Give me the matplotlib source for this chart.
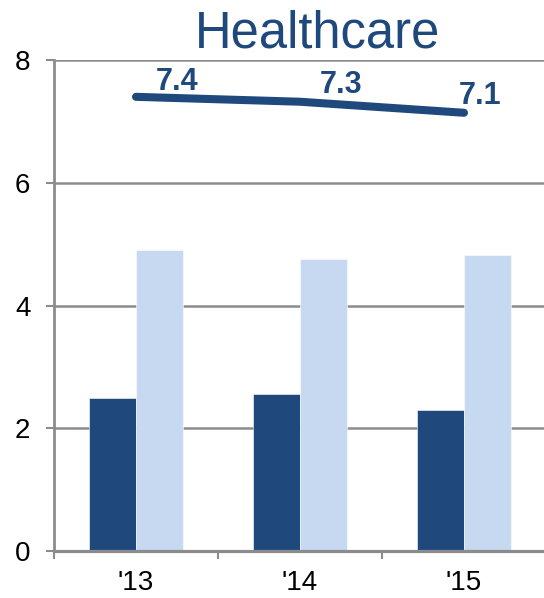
import matplotlib
matplotlib.use("Agg")
import matplotlib.pyplot as plt
import numpy as np

plt.rcParams['font.family'] = ['Liberation Sans', 'DejaVu Sans']

years = ["'13", "'14", "'15"]
dark_values = [2.49, 2.55, 2.30]
light_values = [4.91, 4.76, 4.82]
line_values = [7.40, 7.32, 7.14]
y_ticks = [0, 2, 4, 6, 8]

DARK = "#1F497D"
LIGHT = "#C6D9F1"
GRID = "#8C8C8C"

fig = plt.figure(figsize=(5.44, 5.98), dpi=100)
ax = fig.add_axes([54 / 544, 47 / 598, 492 / 544, 491 / 598])

x = np.arange(len(years))
w = 0.2866
ax.bar(x - w / 2, dark_values, width=w, color=DARK, zorder=3, edgecolor="white", linewidth=0.4)
ax.bar(x + w / 2, light_values, width=w, color=LIGHT, zorder=3, edgecolor="white", linewidth=0.4)

ax.plot(x, line_values, color=DARK, linewidth=5.8, solid_capstyle="round", zorder=4)

# value labels sit above and to the right of each point
label_offsets = [(29.5, 4.8), (29.5, 6.5), (11.5, 6.5)]
for xi, v, (dx, dy) in zip(x, line_values, label_offsets):
    ax.annotate(f"{v:.1f}", (xi, v), xytext=(dx, dy), textcoords="offset points",
                ha="center", va="baseline", fontsize=22, fontweight="bold", color=DARK, zorder=5)

ax.set_xlim(-0.5, 2.5)
ax.set_ylim(0, 8)
ax.set_yticks(y_ticks)
ax.set_yticklabels([str(t) for t in y_ticks], fontsize=20)
ax.set_xticks(x)
ax.set_xticklabels(years, fontsize=20)
ax.set_xticks([-0.5, 0.5, 1.5, 2.5], minor=True)

ax.tick_params(axis="y", length=6, width=1.5, color=GRID, pad=11)
ax.tick_params(axis="x", which="major", length=0, pad=14)
ax.tick_params(axis="x", which="minor", length=6, width=1.5, color=GRID)

ax.yaxis.grid(True, color=GRID, linewidth=1.8, zorder=0)
ax.set_axisbelow(True)

for side in ("top", "right"):
    ax.spines[side].set_visible(False)
ax.spines["left"].set_color(GRID)
ax.spines["left"].set_linewidth(2)
ax.spines["bottom"].set_color(GRID)
ax.spines["bottom"].set_linewidth(2.3)
ax.spines["bottom"].set_zorder(6)

fig.text(318 / 544, 1 - 47 / 598, "Healthcare", ha="center", va="baseline",
         fontsize=36.5, color=DARK)

fig.savefig("out.png", dpi=100)
